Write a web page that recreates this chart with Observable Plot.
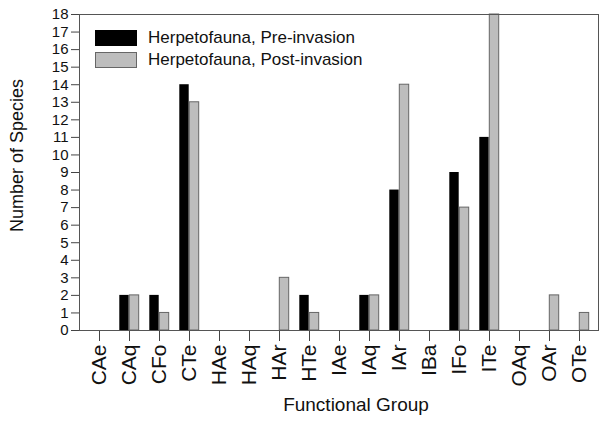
<!DOCTYPE html>
<html><head><meta charset="utf-8">
<script src="https://cdn.jsdelivr.net/npm/d3@7"></script>
<script src="https://cdn.jsdelivr.net/npm/@observablehq/plot@0.6"></script>
<style>
body{margin:0;background:#fff;font-family:"Liberation Sans",Arial,sans-serif;}
#wrap{position:relative;width:600px;height:424px;}
.leg{position:absolute;left:95px;font-size:17px;color:#111;display:flex;align-items:center;line-height:1;}
.sw{width:42px;height:16px;margin-right:11px;box-sizing:border-box;}
</style></head><body>
<div id="wrap"></div>
<script>
const groups = ["CAe","CAq","CFo","CTe","HAe","HAq","HAr","HTe","IAe","IAq","IAr","IBa","IFo","ITe","OAq","OAr","OTe"];
const preInvasion  = [0,2,2,14,0,0,0,2,0,2,8,0,9,11,0,0,0];
const postInvasion = [0,2,1,13,0,0,3,1,0,2,14,0,7,18,0,2,1];
const seriesNames = ["Herpetofauna, Pre-invasion","Herpetofauna, Post-invasion"];
const yTicks = d3.range(0,19);

const pre = groups.map((g,i)=>({g, v:preInvasion[i]}));
const post = groups.map((g,i)=>({g, v:postInvasion[i]}));

const chart = Plot.plot({
  width:600, height:424,
  marginLeft:79, marginRight:2, marginTop:14, marginBottom:94,
  style:{fontFamily:"'Liberation Sans', Arial, sans-serif", background:"#fff", color:"#111", fontSize:"15px"},
  x:{domain:groups, padding:0, label:null},
  y:{domain:[0,18], label:null},
  marks:[
    Plot.barY(pre.filter(d=>d.v>0),{x:"g", y:"v", fill:"#000", insetLeft:5.3, insetRight:15.3}),
    Plot.barY(post.filter(d=>d.v>0),{x:"g", y:"v", fill:"#bdbdbd", stroke:"#666", strokeWidth:1, insetLeft:15.3, insetRight:5.3}),
    Plot.axisY(yTicks,{tickSize:8, tickPadding:3, fontSize:15, label:null, stroke:"#444"}),
    Plot.axisX({tickSize:11, tickPadding:3, tickRotate:-90, fontSize:21, label:null, stroke:"#444"}),
    Plot.ruleY([0],{stroke:"#333"}),
    Plot.frame({stroke:"#555", strokeWidth:1}),
    Plot.text(["Number of Species"],{frameAnchor:"left", textAnchor:"middle", dx:-62, dy:-17, rotate:-90, fontSize:18}),
    Plot.text(["Functional Group"],{frameAnchor:"bottom", dx:17, dy:80, fontSize:19})
  ]
});
const wrap = document.getElementById("wrap");
wrap.appendChild(chart);
const fills = [["#000","#000"],["#bdbdbd","#666"]];
seriesNames.forEach((n,i)=>{
  const d=document.createElement("div");
  d.className="leg"; d.style.top=(29+i*22)+"px";
  d.innerHTML=`<div class="sw" style="background:${fills[i][0]};border:1px solid ${fills[i][1]}"></div><span>${n}</span>`;
  wrap.appendChild(d);
});
</script></body></html>
